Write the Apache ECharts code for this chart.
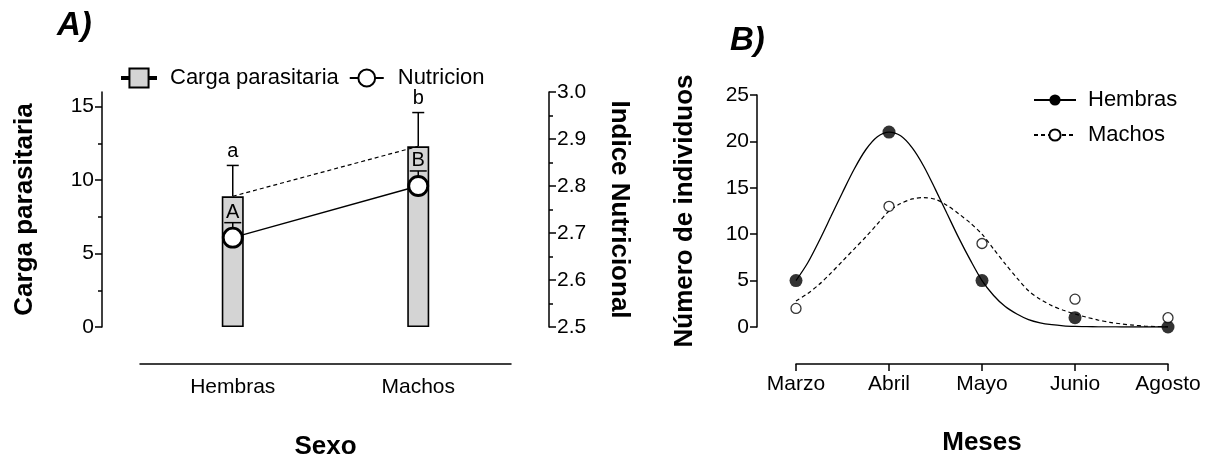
<!DOCTYPE html>
<html><head><meta charset="utf-8">
<script src="https://cdn.jsdelivr.net/npm/echarts@6/dist/echarts.min.js"></script>
<style>html,body{margin:0;padding:0;background:#fff}#c{width:1209px;height:460px}</style>
</head><body><div id="c"></div>
<script>
// ---------- Panel A data ----------
const sexCats = ['Hembras', 'Machos'];
const cargaMean = [8.9, 12.3];
const cargaUpper = [11.0, 14.6];
const cargaLetters = ['a', 'b'];
const nutriMean = [2.69, 2.80];
const nutriUpper = [2.722, 2.832];
const nutriLetters = ['A', 'B'];
const leftTickValues = [0, 5, 10, 15];
const leftMinorValues = [2.5, 7.5, 12.5];

// ---------- Panel B data ----------
const months = ['Marzo', 'Abril', 'Mayo', 'Junio', 'Agosto'];
const hembrasObs = [5, 21, 5, 1, 0];
const machosObs = [2, 13, 9, 3, 1];
// fitted curves at 1/8-month steps
const curveX = [0, 0.125, 0.25, 0.375, 0.5, 0.625, 0.75, 0.875, 1, 1.125, 1.25, 1.375, 1.5, 1.625, 1.75, 1.875,
                2, 2.125, 2.25, 2.375, 2.5, 2.625, 2.75, 2.875, 3, 3.125, 3.25, 3.375, 3.5, 3.625, 3.75, 3.875, 4];
const hembrasCurve = [5.0, 6.9, 9.3, 11.9, 14.5, 17.0, 19.1, 20.5, 21.0, 20.6, 19.3, 17.3, 14.8, 12.2, 9.6, 7.2,
                      5.0, 3.4, 2.2, 1.4, 0.8, 0.45, 0.25, 0.13, 0.07, 0.04, 0.02, 0.01, 0, 0, 0, 0, 0];
const machosCurve = [2.8, 3.6, 4.6, 5.8, 7.1, 8.4, 9.7, 11.1, 12.5, 13.3, 13.8, 13.95, 13.75, 13.1, 12.2, 11.2,
                     10.0, 8.4, 6.8, 5.3, 3.9, 3.0, 2.3, 1.8, 1.4, 1.05, 0.75, 0.5, 0.33, 0.2, 0.1, 0.05, 0.02];

const FONT = 'Liberation Sans, Arial, sans-serif';
const BLACK = '#000';

function errRender(capHalf, font, gap) {
  return function (params, api) {
    const x = api.value(0), lo = api.value(1), hi = api.value(2);
    const letter = api.value(3);
    const p0 = api.coord([x, lo]);
    const p1 = api.coord([x, hi]);
    return {
      type: 'group',
      children: [
        { type: 'line', shape: { x1: p0[0], y1: p0[1], x2: p1[0], y2: p1[1] }, style: { stroke: BLACK, lineWidth: 1.5 } },
        { type: 'line', shape: { x1: p1[0] - capHalf, y1: p1[1], x2: p1[0] + capHalf, y2: p1[1] }, style: { stroke: BLACK, lineWidth: 1.5 } },
        { type: 'text', x: p1[0], y: p1[1] - gap, style: { text: String(letter), align: 'center', verticalAlign: 'bottom', font: font, fill: BLACK } }
      ]
    };
  };
}

const cargaErrData = sexCats.map((c, i) => [i, cargaMean[i], cargaUpper[i], cargaLetters[i]]);
const nutriErrData = sexCats.map((c, i) => [i, nutriMean[i], nutriUpper[i], nutriLetters[i]]);

const axisLineStyle = { color: BLACK, width: 1.5 };
const tickStyle = { color: BLACK, width: 1.5 };
const TICKFS = 21;
const NAMEFS = 26;

const option = {
  animation: false,
  backgroundColor: '#fff',
  textStyle: { fontFamily: FONT, color: BLACK },
  title: [
    { text: 'A)', left: 52, top: 4, textStyle: { fontSize: 33, fontWeight: 'bold', fontStyle: 'italic', color: BLACK, fontFamily: FONT } },
    { text: 'B)', left: 725, top: 19, textStyle: { fontSize: 33, fontWeight: 'bold', fontStyle: 'italic', color: BLACK, fontFamily: FONT } }
  ],
  legend: [
    {
      data: [
        { name: 'Carga parasitaria', icon: 'path://M0,9H7V11H0Z M7,1H25V19H7Z M25,9H32V11H25Z' },
        { name: 'Nutricion' }
      ],
      left: 116, top: 62, itemWidth: 34, itemHeight: 21, itemGap: 10,
      textStyle: { fontSize: 22, color: BLACK, fontFamily: FONT, padding: [0, 0, 0, 9] }
    },
    {
      data: ['Hembras', 'Machos'],
      orient: 'vertical', left: 1028, top: 84, itemWidth: 42, itemHeight: 14, itemGap: 13,
      textStyle: { fontSize: 22, color: BLACK, fontFamily: FONT, padding: [0, 0, 0, 7] }
    }
  ],
  grid: [
    { left: 140, right: 698, top: 92, bottom: 133, outerBoundsMode: 'none', containLabel: false },
    { left: 796, right: 41, top: 95, bottom: 133, outerBoundsMode: 'none', containLabel: false }
  ],
  xAxis: [
    {
      gridIndex: 0, type: 'category', data: sexCats, offset: 37,
      axisLine: { onZero: false, lineStyle: axisLineStyle },
      axisTick: { alignWithLabel: true, length: 7, lineStyle: tickStyle },
      axisLabel: { fontSize: TICKFS, color: BLACK, margin: 13 },
      name: 'Sexo', nameLocation: 'middle', nameGap: 70,
      nameTextStyle: { fontSize: NAMEFS, fontWeight: 'bold', color: BLACK }
    },
    {
      gridIndex: 1, type: 'value', min: 0, max: 4, interval: 1, offset: 37,
      axisLine: { onZero: false, lineStyle: axisLineStyle },
      axisTick: { length: 7, lineStyle: tickStyle },
      axisLabel: { fontSize: TICKFS, color: BLACK, margin: 10, formatter: v => months[v] },
      splitLine: { show: false },
      name: 'Meses', nameLocation: 'middle', nameGap: 66,
      nameTextStyle: { fontSize: NAMEFS, fontWeight: 'bold', color: BLACK }
    }
  ],
  yAxis: [
    {
      gridIndex: 0, type: 'value', min: 0, max: 16, offset: 38, position: 'left',
      axisLine: { show: true, onZero: false, lineStyle: axisLineStyle },
      axisTick: { show: true, length: 7, customValues: leftTickValues, lineStyle: tickStyle },
      axisLabel: { fontSize: TICKFS, color: BLACK, margin: 8, customValues: leftTickValues },
      splitLine: { show: false },
      name: 'Carga parasitaria', nameLocation: 'middle', nameGap: 64, nameRotate: 90,
      nameTextStyle: { fontSize: NAMEFS, fontWeight: 'bold', color: BLACK }
    },
    {
      gridIndex: 0, type: 'value', min: 2.5, max: 3.0, interval: 0.1, offset: 38, position: 'right',
      axisLine: { show: true, onZero: false, lineStyle: axisLineStyle },
      axisTick: { show: true, length: 7, lineStyle: tickStyle },
      minorTick: { show: true, splitNumber: 2, length: 4, lineStyle: tickStyle },
      axisLabel: { fontSize: TICKFS, color: BLACK, margin: 8, formatter: v => v.toFixed(1) },
      splitLine: { show: false },
      name: 'Indice Nutricional', nameLocation: 'middle', nameGap: 57, nameRotate: -90,
      nameTextStyle: { fontSize: NAMEFS, fontWeight: 'bold', color: BLACK }
    },
    {
      gridIndex: 0, type: 'value', min: 0, max: 16, offset: 38, position: 'left',
      axisLine: { show: false, onZero: false },
      axisTick: { show: true, length: 4, customValues: leftMinorValues, lineStyle: tickStyle },
      axisLabel: { show: false },
      splitLine: { show: false }
    },
    {
      gridIndex: 1, type: 'value', min: 0, max: 25, interval: 5, offset: 39,
      axisLine: { show: true, onZero: false, lineStyle: axisLineStyle },
      axisTick: { show: true, length: 7, lineStyle: tickStyle },
      axisLabel: { fontSize: TICKFS, color: BLACK, margin: 8 },
      splitLine: { show: false },
      name: 'Número de individuos', nameLocation: 'middle', nameGap: 59, nameRotate: 90,
      nameTextStyle: { fontSize: NAMEFS, fontWeight: 'bold', color: BLACK }
    }
  ],
  series: [
    {
      name: 'Carga parasitaria', type: 'bar', xAxisIndex: 0, yAxisIndex: 0,
      data: cargaMean, barWidth: 22,
      itemStyle: { color: '#d4d4d4', borderColor: BLACK, borderWidth: 1.6 },
      z: 2
    },
    {
      name: 'cargaLine', type: 'line', xAxisIndex: 0, yAxisIndex: 0, data: cargaMean,
      symbol: 'none', lineStyle: { color: BLACK, width: 1.2, type: [4, 3] }, z: 3
    },
    {
      name: 'cargaErr', type: 'custom', xAxisIndex: 0, yAxisIndex: 0, data: cargaErrData,
      renderItem: errRender(6, '20px ' + FONT, 4), z: 4
    },
    {
      name: 'nutriErr', type: 'custom', xAxisIndex: 0, yAxisIndex: 1, data: nutriErrData,
      renderItem: errRender(8.5, '20px ' + FONT, 0), z: 4
    },
    {
      name: 'Nutricion', type: 'line', xAxisIndex: 0, yAxisIndex: 1, data: nutriMean,
      symbol: 'circle', symbolSize: 19,
      itemStyle: { color: '#fff', borderColor: BLACK, borderWidth: 2.8 },
      lineStyle: { color: BLACK, width: 1.3 }, z: 5
    },
    // Panel B fitted curves
    {
      name: 'Hembras', type: 'line', xAxisIndex: 1, yAxisIndex: 3,
      data: curveX.map((x, i) => [x, hembrasCurve[i]]),
      smooth: 0.3, showSymbol: false, symbol: 'circle', symbolSize: 12,
      itemStyle: { color: BLACK }, lineStyle: { color: BLACK, width: 1.3 }, z: 3
    },
    {
      name: 'Machos', type: 'line', xAxisIndex: 1, yAxisIndex: 3,
      data: curveX.map((x, i) => [x, machosCurve[i]]),
      smooth: 0.3, showSymbol: false, symbol: 'emptyCircle', symbolSize: 9,
      itemStyle: { color: BLACK },
      lineStyle: { color: BLACK, width: 1.2, type: [4, 3] }, z: 3
    },
    // Panel B observed points
    {
      name: 'hembrasPts', type: 'scatter', xAxisIndex: 1, yAxisIndex: 3,
      data: hembrasObs.map((v, i) => [i, v]), symbol: 'circle', symbolSize: 13,
      itemStyle: { color: BLACK }, z: 5
    },
    {
      name: 'machosPts', type: 'scatter', xAxisIndex: 1, yAxisIndex: 3,
      data: machosObs.map((v, i) => [i, v]), symbol: 'circle', symbolSize: 10,
      itemStyle: { color: '#fff', borderColor: BLACK, borderWidth: 1.3 }, z: 6
    }
  ]
};

const chart = echarts.init(document.getElementById('c'), null, { renderer: 'canvas' });
chart.setOption(option);
</script>
</body></html>
